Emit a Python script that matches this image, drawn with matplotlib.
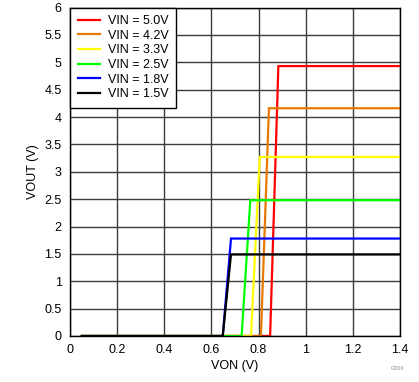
import matplotlib.pyplot as plt

# Output enable curves: VOUT vs VON for different VIN
labels = ["VIN = 5.0V", "VIN = 4.2V", "VIN = 3.3V", "VIN = 2.5V", "VIN = 1.8V", "VIN = 1.5V"]
colors = ["#ff0000", "#e87800", "#ffff00", "#00ff00", "#0000ff", "#000000"]
von_start = [0.05, 0.05, 0.05, 0.05, 0.05, 0.05]
von_low = [0.849, 0.810, 0.768, 0.728, 0.648, 0.648]   # last VON with VOUT = 0
von_high = [0.884, 0.844, 0.805, 0.765, 0.683, 0.683]  # first VON at full VOUT
von_end = [1.4, 1.4, 1.4, 1.4, 1.4, 1.4]
vout_high = [4.93, 4.16, 3.27, 2.48, 1.78, 1.49]

plt.rcParams['font.family'] = ['Liberation Sans', 'DejaVu Sans']

fig = plt.figure(figsize=(4.19, 3.82), dpi=100)
ax = fig.add_axes([70 / 419, 46 / 382, 330 / 419, 328.5 / 382])

for i in range(len(labels)):
    xs = [von_start[i], von_low[i], von_high[i], von_end[i]]
    ys = [0, 0, vout_high[i], vout_high[i]]
    ax.plot(xs, ys, color=colors[i], lw=1.6, label=labels[i], solid_joinstyle="miter")

ax.set_xlim(0, 1.4)
ax.set_ylim(0, 6)
ax.set_xticks([0, 0.2, 0.4, 0.6, 0.8, 1.0, 1.2, 1.4])
ax.set_xticklabels(["0", "0.2", "0.4", "0.6", "0.8", "1", "1.2", "1.4"])
ax.set_yticks([0, 0.5, 1, 1.5, 2, 2.5, 3, 3.5, 4, 4.5, 5, 5.5, 6])
ax.set_yticklabels(["0", "0.5", "1", "1.5", "2", "2.5", "3", "3.5", "4", "4.5", "5", "5.5", "6"])
ax.tick_params(length=0, labelsize=9, pad=6)
ax.grid(True, color="#3c3c3c", lw=1.0)
ax.set_axisbelow(True)
for s in ax.spines.values():
    s.set_color("black")
    s.set_linewidth(1.0)

ax.set_xlabel("VON (V)", fontsize=9, labelpad=3)
ax.set_ylabel("VOUT (V)", fontsize=9, labelpad=4)

leg = ax.legend(loc="upper left", fontsize=9, frameon=True, fancybox=False,
                edgecolor="black", framealpha=1, borderpad=0.6, labelspacing=0.21,
                handlelength=1.8, handletextpad=0.6, borderaxespad=0.0)
leg.get_frame().set_linewidth(1.0)

fig.text(0.965, 0.035, "G000", fontsize=4, color="#888888", ha="right", va="center")

fig.savefig("out.png", dpi=100)
